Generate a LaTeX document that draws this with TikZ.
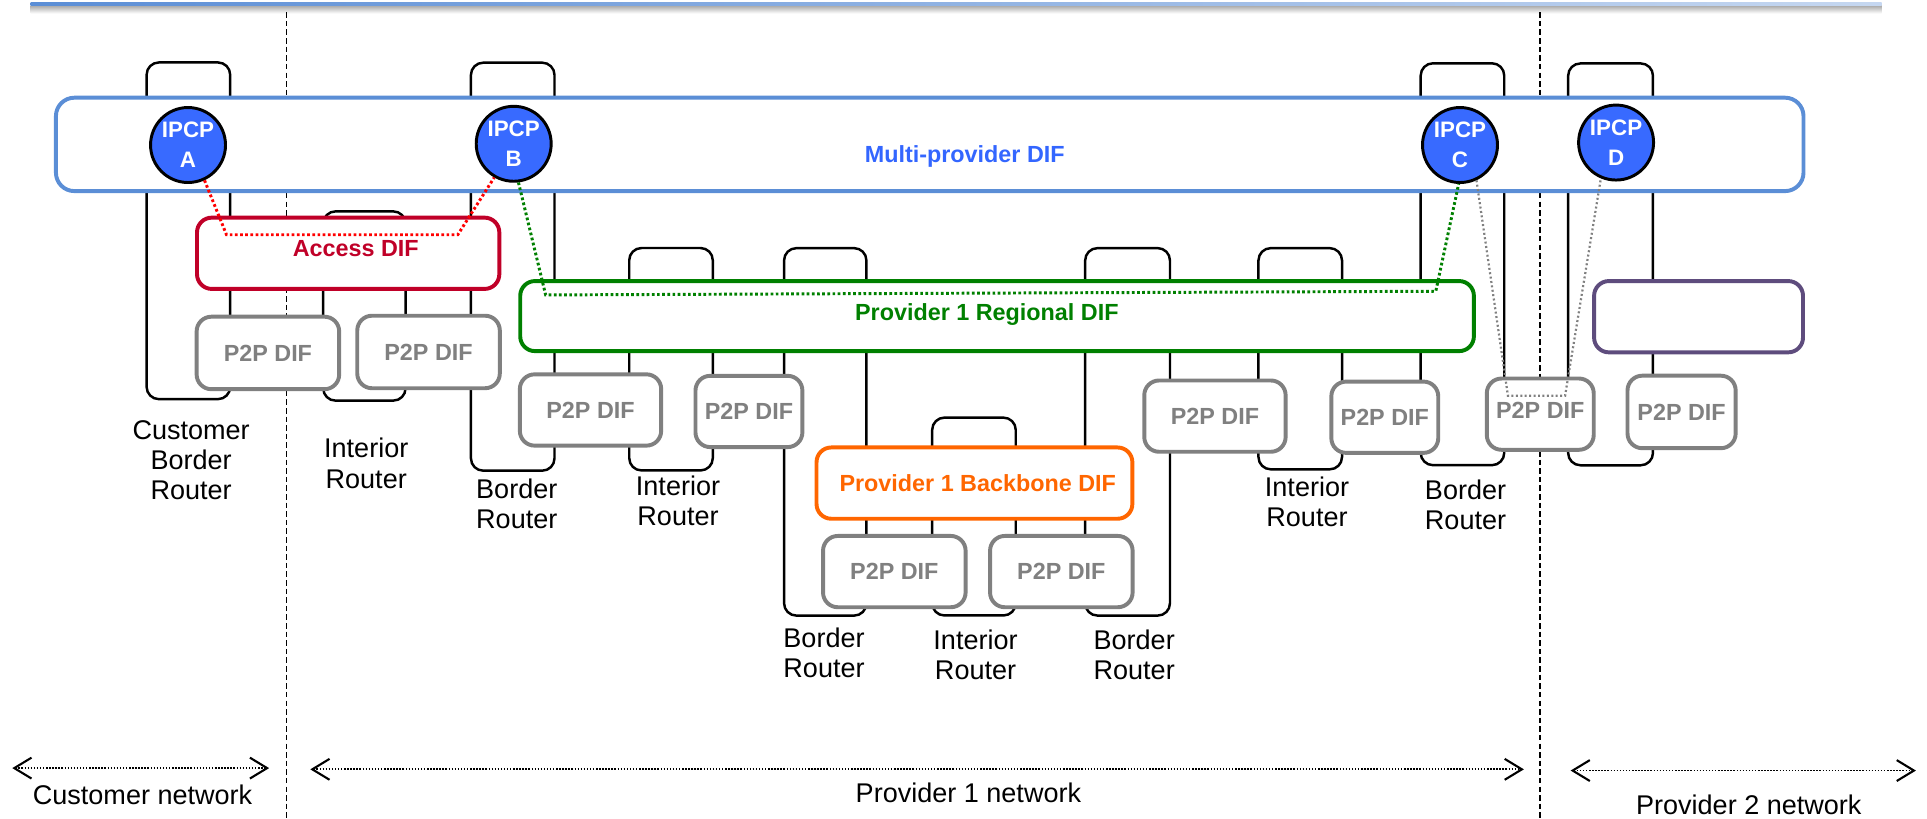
\documentclass[tikz,border=0pt]{standalone}
\usepackage{fontspec}
\setmainfont{Liberation Sans}
\setsansfont{Liberation Sans}
\usetikzlibrary{arrows.meta}

\definecolor{mpblue}{RGB}{91,142,214}
\definecolor{mptext}{RGB}{51,102,255}
\definecolor{ipcpfill}{RGB}{56,106,255}
\definecolor{accessred}{RGB}{192,0,40}
\definecolor{dotred}{RGB}{255,0,0}
\definecolor{regreen}{RGB}{0,128,0}
\definecolor{boneorange}{RGB}{255,102,0}
\definecolor{p2pgray}{RGB}{128,128,128}
\definecolor{p2purple}{RGB}{94,76,125}

\begin{document}
\begin{tikzpicture}[x=1pt,y=-1pt,
  router/.style={draw=black, line width=2pt, rounded corners=10pt, inner sep=0pt},
  difbox/.style={draw, fill=white, line width=3.2pt, rounded corners=12pt, inner sep=0pt},
  p2pfont/.style={font=\bfseries\fontsize{19}{21}\selectfont},
  p2p/.style={difbox, draw=p2pgray, text=p2pgray, p2pfont},
  ipcp/.style={circle, draw=black, line width=2.4pt, fill=ipcpfill, text=white,
    inner sep=0pt, minimum size=61pt, align=center, font=\bfseries\fontsize{18.2}{24.6}\selectfont},
  rlabel/.style={align=center, inner sep=0pt, font=\fontsize{22}{24.5}\selectfont},
  diflabel/.style={inner sep=0pt, font=\bfseries\fontsize{19}{21}\selectfont},
  netlabel/.style={inner sep=0pt, font=\fontsize{22}{24}\selectfont},
  boundary/.style={line width=1.3pt, dash pattern=on 4.5pt off 2.5pt},
  span/.style={line width=1.4pt, dash pattern=on 1.2pt off 1.3pt, <->,
    >={Straight Barb[length=14pt,width=17pt,line width=1.7pt]}},
  link/.style={line width=2.4pt, dash pattern=on 2.2pt off 2pt},
  thinlink/.style={line width=1.8pt, dash pattern=on 1.6pt off 2pt, draw=p2pgray}
]
\useasboundingbox (0,0) rectangle (1568,666);

% header rule with its soft shadow
\shade[top color=black!35, bottom color=white] (25,4.3) rectangle (1531,11);
\shade[left color=mpblue, right color=mpblue!35] (25,2.2) rectangle (1531,4.4);

% network boundaries
\coordinate (bd1t) at (233,10);  \coordinate (bd1b) at (233,666);
\coordinate (bd2t) at (1253,10); \coordinate (bd2b) at (1253,666);
\draw[boundary] (bd1t) -- (bd1b);
\draw[boundary] (bd2t) -- (bd2b);

% routers
\node[router, minimum width=68pt, minimum height=274pt] (r1) at (153.3,187.8) {};
\node[router, minimum width=67pt, minimum height=154pt] (r2) at (296.5,249) {};
\node[router, minimum width=68pt, minimum height=332pt] (r3) at (417.2,217) {};
\node[router, minimum width=68pt, minimum height=181pt] (r4) at (546,292.3) {};
\node[router, minimum width=67pt, minimum height=299pt] (r5) at (671.5,351.4) {};
\node[router, minimum width=68pt, minimum height=161pt] (r6) at (792.5,420.3) {};
\node[router, minimum width=69pt, minimum height=299pt] (r7) at (917.5,351.4) {};
\node[router, minimum width=68pt, minimum height=180pt] (r8) at (1058,291.9) {};
\node[router, minimum width=68pt, minimum height=327pt] (r9) at (1190,215) {};
\node[router, minimum width=69pt, minimum height=327pt] (r10) at (1310.5,215.1) {};

% router names
\node[rlabel] (l1) at (155.5,374.5) {Customer\\Border\\Router};
\node[rlabel] (l2) at (298,377) {Interior\\Router};
\node[rlabel] (l3) at (420.5,410) {Border\\Router};
\node[rlabel] (l4) at (551.7,407.5) {Interior\\Router};
\node[rlabel] (l5) at (670.5,531.3) {Border\\Router};
\node[rlabel] (l6) at (793.8,532.7) {Interior\\Router};
\node[rlabel] (l7) at (922.9,532.7) {Border\\Router};
\node[rlabel] (l8) at (1063.5,408) {Interior\\Router};
\node[rlabel] (l9) at (1192.5,410.7) {Border\\Router};

% DIFs
\node[difbox, draw=mpblue, rounded corners=15pt, minimum width=1422pt, minimum height=76pt] (mp) at (756.5,117.5) {};
\node[difbox, draw=accessred, minimum width=246pt, minimum height=58pt] (acc) at (283.3,206.1) {};
\node[difbox, draw=regreen, minimum width=776pt, minimum height=57pt] (reg) at (811.3,257.2) {};
\node[difbox, draw=boneorange, minimum width=257pt, minimum height=58pt] (bone) at (792.9,393.1) {};
\node[difbox, draw=p2purple, minimum width=170pt, minimum height=58pt] (p2) at (1382.1,257.7) {};

\node[p2p, minimum width=116pt, minimum height=59pt] (p1) at (218,287.2) {P2P DIF};
\node[p2p, minimum width=116pt, minimum height=59pt] (pp2) at (348.7,286.4) {P2P DIF};
\node[p2p, minimum width=115pt, minimum height=58pt] (pp3) at (480.5,333.6) {P2P DIF};
\node[p2p, minimum width=87pt, minimum height=58pt] (pp4) at (609.4,334.8) {P2P DIF};
\node[p2p, minimum width=115pt, minimum height=58pt] (pp5) at (988.6,338.6) {P2P DIF};
\node[p2p, minimum width=87pt, minimum height=58pt] (pp6) at (1126.8,339.5) {P2P DIF};
\node[p2p, minimum width=87pt, minimum height=58pt] (pp7) at (1253.3,337) {};
\node[inner sep=0pt, text=p2pgray, p2pfont] (pp7t) at (1253.3,333.6) {P2P DIF};
\node[p2p, minimum width=88pt, minimum height=59pt] (pp8) at (1368.3,335.2) {P2P DIF};
\node[p2p, minimum width=116pt, minimum height=58pt] (pp9) at (727.7,465.1) {P2P DIF};
\node[p2p, minimum width=116pt, minimum height=58pt] (pp10) at (863.6,465.1) {P2P DIF};

% DIF names
\node[diflabel, text=mptext] (mpt) at (785,127) {Multi-provider DIF};
\node[diflabel, text=accessred] (acct) at (289.5,202) {Access DIF};
\node[diflabel, text=regreen] (regt) at (803,256) {Provider 1 Regional DIF};
\node[diflabel, text=boneorange] (bonet) at (795.6,393) {Provider 1 Backbone DIF};

% IPC processes of the multi-provider DIF
\node[ipcp] (ipA) at (153,118) {IPCP\\A};
\node[ipcp] (ipB) at (418,117) {IPCP\\B};
\node[ipcp] (ipC) at (1188,118) {IPCP\\C};
\node[ipcp] (ipD) at (1315,116) {IPCP\\D};

% lower-layer paths between the IPCPs
\coordinate (rc1) at (184.3,191);
\coordinate (rc2) at (372.5,191);
\draw[link, draw=dotred] (ipA.-65) -- (rc1) -- (rc2) -- (ipB.-120);
\coordinate (gc1) at (444,240);
\coordinate (gc2) at (1168.3,237);
\draw[link, draw=regreen] (ipB.-83) -- (gc1) -- (gc2) -- (ipC.-92);
\coordinate (yc1) at (1227,322);
\coordinate (yc2) at (1273.5,322);
\draw[thinlink] (ipC.-65) -- (yc1) -- (yc2) -- (ipD.-113);

% network extents
\coordinate (c1) at (10,625);    \coordinate (c2) at (219,625);
\coordinate (q1) at (252.5,626); \coordinate (q2) at (1240,626);
\coordinate (s1) at (1278,627);  \coordinate (s2) at (1559,627);
\draw[span] (c1) -- (c2);
\draw[span] (q1) -- (q2);
\draw[span] (s1) -- (s2);
\node[netlabel] (cn) at (116,647) {Customer network};
\node[netlabel] (pn1) at (788,645) {Provider 1 network};
\node[netlabel] (pn2) at (1423,655) {Provider 2 network};
\end{tikzpicture}
\end{document}
